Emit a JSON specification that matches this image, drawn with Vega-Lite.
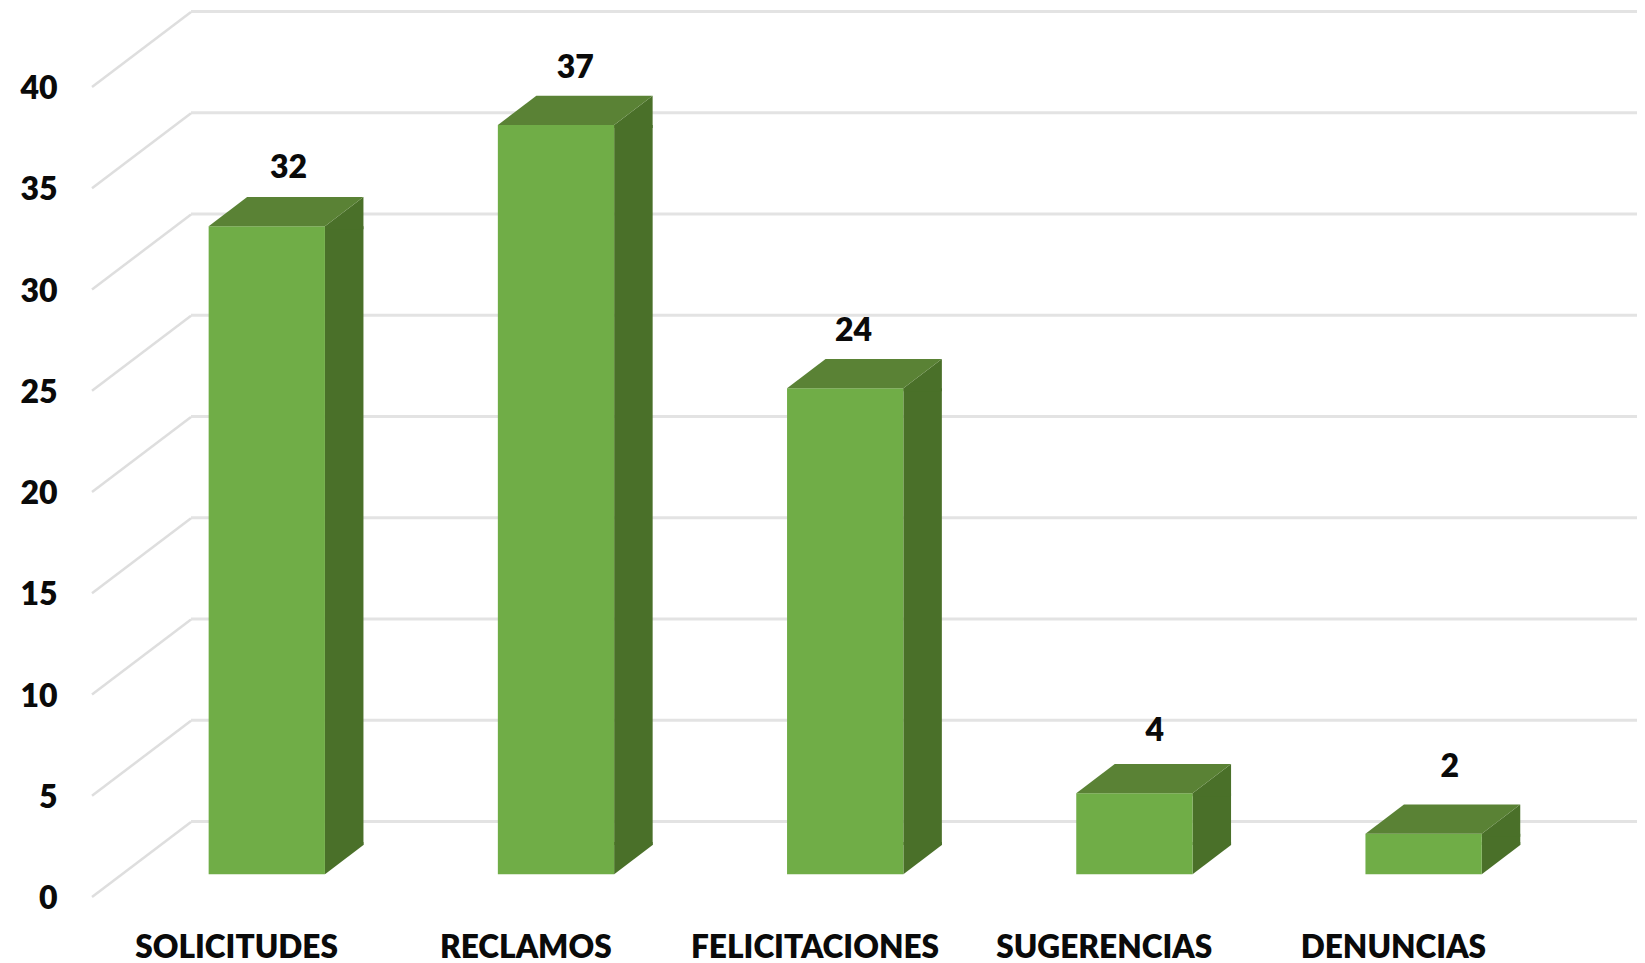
{
"$schema":"https://vega.github.io/schema/vega-lite/v6.json",
"width":1446,"height":810,
"autosize":"none",
"padding":{"left":92,"top":87,"right":107,"bottom":66},
"background":"white",
"data":{"values":[
{"categoria":"SOLICITUDES","casos":32},
{"categoria":"RECLAMOS","casos":37},
{"categoria":"FELICITACIONES","casos":24},
{"categoria":"SUGERENCIAS","casos":4},
{"categoria":"DENUNCIAS","casos":2}]},
"config":{"view":{"stroke":null}},
"encoding":{
"x":{"field":"categoria","type":"nominal","sort":null,"title":null,"scale":{"paddingInner":0,"paddingOuter":0},
"axis":{"domain":false,"ticks":false,"labelAngle":0,"labelFont":"Lato","labelFontWeight":800,"labelFontSize":31.6,"labelColor":"#0a0a0a","labelPadding":35,"labelBaseline":"top","labelLimit":500,"zindex":1}},
"y":{"field":"casos","type":"quantitative","title":null,"scale":{"domain":[0,40],"nice":false},
"axis":{"domain":false,"ticks":false,"grid":false,"values":[0,5,10,15,20,25,30,35,40],"labelFont":"Lato","labelFontWeight":800,"labelFontSize":32,"labelColor":"#0a0a0a","labelPadding":35,"labelOffset":1.5,"zindex":1}}
},
"layer":[
{"data":{"values":[{"t":0},{"t":5},{"t":10},{"t":15},{"t":20},{"t":25},{"t":30},{"t":35},{"t":40}]},
 "mark":{"type":"point","shape":"M0,0L1446,0","size":4,"stroke":"#e3e3e3","strokeWidth":3,"filled":false,"opacity":1,"xOffset":-45.6,"yOffset":-75.5},
 "encoding":{"x":{"datum":"SOLICITUDES"},"y":{"field":"t","type":"quantitative"}}},
{"data":{"values":[{"t":0},{"t":5},{"t":10},{"t":15},{"t":20},{"t":25},{"t":30},{"t":35},{"t":40}]},
 "mark":{"type":"point","shape":"M0,0L99,-75","size":4,"stroke":"#dedede","strokeWidth":2.5,"filled":false,"opacity":1,"xOffset":-144.6},
 "encoding":{"x":{"datum":"SOLICITUDES"},"y":{"field":"t","type":"quantitative"}}},
{"mark":{"type":"bar","color":"#4a7029","width":38.5,"xOffset":107.6,"yOffset":-22.8,"y2Offset":-52.1},
 "encoding":{"y2":{"datum":0}}},
{"mark":{"type":"point","shape":"M0,0L38.5,-29.3L38.5,3L0,3Z","size":4,"filled":true,"opacity":1,"fill":"#4a7029","strokeWidth":0,"xOffset":88.35,"yOffset":-22.8}},
{"mark":{"type":"point","shape":"M0,0L38.5,-29.3L38.5,-32.3L0,-32.3Z","size":4,"filled":true,"opacity":1,"fill":"#4a7029","strokeWidth":0,"xOffset":88.35,"yOffset":-22.8},
 "encoding":{"y":{"datum":0}}},
{"mark":{"type":"bar","color":"#70ad47","width":116.3,"xOffset":30.2,"yOffset":-22.8,"y2Offset":-22.8},
 "encoding":{"y2":{"datum":0}}},
{"mark":{"type":"point","shape":"M-58.15,0L58.15,0L96.65,-29.3L-19.65,-29.3Z","size":4,"filled":true,"opacity":1,"fill":"#5a8235","strokeWidth":0,"xOffset":30.2,"yOffset":-22.8}},
{"mark":{"type":"text","font":"Lato","fontWeight":800,"fontSize":32,"color":"#0a0a0a","baseline":"middle",
  "dx":{"expr":"{'SOLICITUDES':52,'RECLAMOS':49.5,'FELICITACIONES':38.5,'SUGERENCIAS':50.5,'DENUNCIAS':56.5}[datum.categoria]"},
  "dy":{"expr":"{'SOLICITUDES':-81,'RECLAMOS':-80,'FELICITACIONES':-80,'SUGERENCIAS':-85,'DENUNCIAS':-89.5}[datum.categoria]"}},
 "encoding":{"text":{"field":"casos","type":"quantitative"}}}
]
}
